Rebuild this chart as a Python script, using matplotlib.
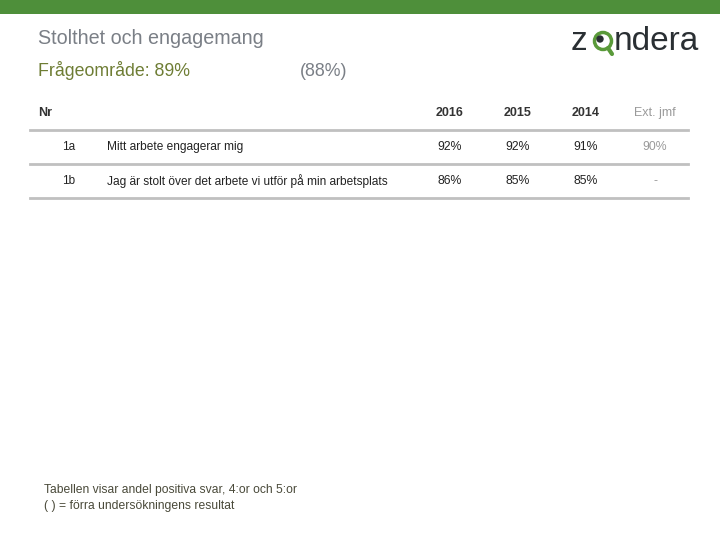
import matplotlib
matplotlib.use("Agg")
import matplotlib.pyplot as plt
from matplotlib.patches import Rectangle, Circle
from matplotlib.lines import Line2D

title = "Stolthet och engagemang"
area_label = "Frågeområde: 89%"
area_prev = "(88%)"
columns = ["2016", "2015", "2014", "Ext. jmf"]
ids = ["1a", "1b"]
questions = ["Mitt arbete engagerar mig",
             "Jag är stolt över det arbete vi utför på min arbetsplats"]
vals_2016 = ["92%", "86%"]
vals_2015 = ["92%", "85%"]
vals_2014 = ["91%", "85%"]
vals_ext = ["90%", "-"]
footer = ["Tabellen visar andel positiva svar, 4:or och 5:or",
          "( ) = förra undersökningens resultat"]

plt.rcParams['font.family'] = ['Liberation Sans', 'DejaVu Sans']

fig = plt.figure(figsize=(7.2, 5.4), dpi=100)
ax = fig.add_axes([0, 0, 1, 1])
ax.set_xlim(0, 720)
ax.set_ylim(540, 0)
ax.axis('off')

# top green band
ax.add_patch(Rectangle((0, 0), 720, 14, color='#4e8f3a', lw=0))

ax.text(38, 38, title, fontsize=14.2, color='#7a7f86', va='center', ha='left')
ax.text(38, 71, area_label, fontsize=12.8, color='#6e7d34', va='center', ha='left')
ax.text(300, 71, area_prev, fontsize=12.8, color='#7a7f86', va='center', ha='left')

# logo
ax.text(571, 41, "z", fontsize=24, color='#2a2f33', va='center', ha='left')
ax.add_patch(Circle((603, 41), 8.5, fill=False, ec='#5a9a3a', lw=2.5))
ax.add_patch(Circle((600, 39), 3, color='#2a2f33'))
ax.add_line(Line2D([608, 612], [48, 54], color='#5a9a3a', lw=3, solid_capstyle='round'))
ax.text(614, 41, "ndera", fontsize=24, color='#2a2f33', va='center', ha='left')

# table header
col_x = [450, 518, 586, 655]
ax.text(38, 113, "Nr", fontsize=9, fontweight='bold', color='#333333', va='center', ha='left')
for i, c in enumerate(columns):
    last = (i == len(columns) - 1)
    ax.text(col_x[i], 113, c, fontsize=9, fontweight='normal' if last else 'bold',
            color='#9a9a9a' if last else '#333333', va='center', ha='center')

line_y = [130, 164, 198]
for y in line_y:
    ax.add_line(Line2D([30, 688], [y, y], color='#c0c0c0', lw=2))

row_y = [147, 181]
for r in range(len(ids)):
    y = row_y[r]
    ax.text(62, y, ids[r], fontsize=8.5, color='#222222', va='center', ha='left')
    ax.text(107, y, questions[r], fontsize=8.6, color='#222222', va='center', ha='left')
    for i, v in enumerate([vals_2016[r], vals_2015[r], vals_2014[r], vals_ext[r]]):
        last = (i == 3)
        ax.text(col_x[i], y, v, fontsize=8.8, color='#9a9a9a' if last else '#222222',
                va='center', ha='center')

ax.text(44, 490, footer[0], fontsize=8.7, color='#4a4a3a', va='center', ha='left')
ax.text(44, 506, footer[1], fontsize=8.7, color='#4a4a3a', va='center', ha='left')

fig.savefig("out.png", dpi=100)
